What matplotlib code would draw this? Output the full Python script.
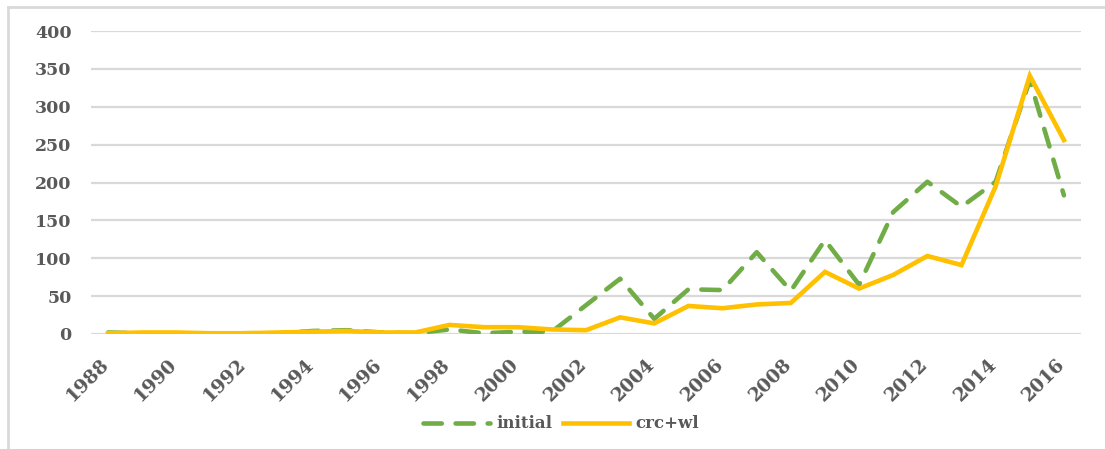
import matplotlib
matplotlib.use("Agg")
import matplotlib.pyplot as plt
from matplotlib.lines import Line2D
from matplotlib.transforms import ScaledTranslation

years = list(range(1988, 2017))
initial = [2, 1, 1, 0, 1, 1, 4, 5, 2, 1, 6, 1, 3, 3, 38, 73, 20, 59, 58, 108,
           57, 124, 65, 161, 201, 168, 201, 335, 183]
crc_wl = [1, 2, 2, 1, 1, 2, 3, 4, 2, 2, 12, 9, 9, 6, 5, 22, 14, 37, 34, 39,
          41, 82, 60, 78, 103, 91, 195, 341, 256]
y_ticks = [0, 50, 100, 150, 200, 250, 300, 350, 400]
x_tick_labels = [str(y) for y in years[::2]]

GREEN = "#70AD47"
YELLOW = "#FFC000"
TEXT = "#595959"
GRID = "#D9D9D9"
YFONT = dict(family="DejaVu Serif", weight="bold", size=12.5, color=TEXT)
XFONT = dict(family="DejaVu Serif", weight="bold", size=13.5, color=TEXT)

fig = plt.figure(figsize=(11.05, 4.49), dpi=100)
ax = fig.add_axes([91 / 1105, 1 - 334 / 449, (1081 - 91) / 1105, (334 - 31) / 449])

idx = list(range(len(years)))
ax.plot(idx, initial, color=GREEN, lw=3.3, dashes=(4, 3.0),
        dash_capstyle="round", solid_capstyle="round", label="initial", zorder=3)
ax.plot(idx, crc_wl, color=YELLOW, lw=3.3, solid_joinstyle="miter",
        label="crc+wl", zorder=4)

ax.set_xlim(-0.5, len(years) - 0.5)
ax.set_ylim(0, 400)
ax.set_yticks(y_ticks)
ax.set_yticklabels([str(v) for v in y_ticks], fontdict=YFONT)
ax.set_xticks(idx[::2])
ax.set_xticklabels(x_tick_labels, fontdict=XFONT, rotation=45, ha="right",
                   rotation_mode="anchor")
ax.tick_params(axis="both", length=0)
ax.tick_params(axis="y", pad=14)
ax.tick_params(axis="x", pad=15)
shift = ScaledTranslation(-6 / 72, 0, fig.dpi_scale_trans)
for lab in ax.get_xticklabels():
    lab.set_transform(lab.get_transform() + shift)
ax.grid(axis="y", color=GRID, lw=1.6)
ax.set_axisbelow(True)
for s in ax.spines.values():
    s.set_visible(False)

leg = fig.legend(loc="center", bbox_to_anchor=(0.508, 0.056), ncol=2,
                 frameon=False, handlelength=4, columnspacing=0.6,
                 handletextpad=0.4,
                 prop=dict(family="DejaVu Serif", weight="bold", size=12))
for t in leg.get_texts():
    t.set_color(TEXT)

# chart-area border (top and left visible)
fig.add_artist(Line2D([8 / 1105, 1.0], [1 - 7 / 449, 1 - 7 / 449],
                      transform=fig.transFigure, color=GRID, lw=2))
fig.add_artist(Line2D([8 / 1105, 8 / 1105], [0.0, 1 - 7 / 449],
                      transform=fig.transFigure, color=GRID, lw=2))

fig.savefig("out.png", dpi=100)
